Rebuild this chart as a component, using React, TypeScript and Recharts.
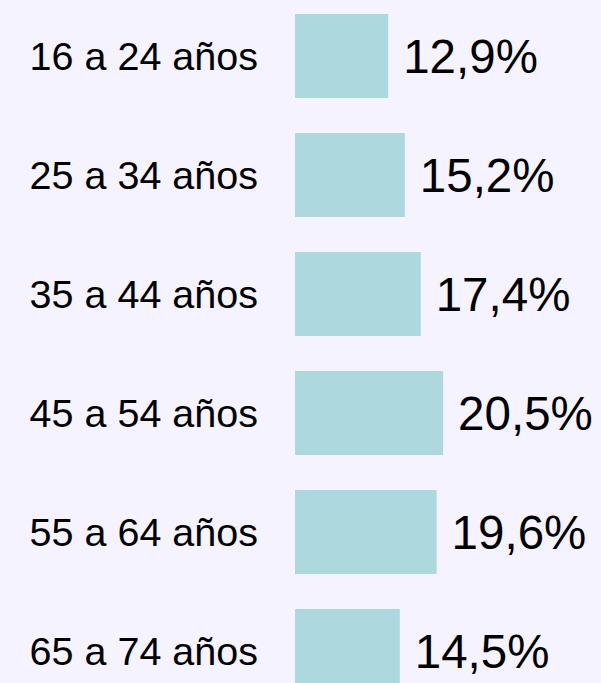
import { Bar, BarChart, LabelList, XAxis, YAxis } from 'recharts'

const grupos = ['16 a 24 años', '25 a 34 años', '35 a 44 años', '45 a 54 años', '55 a 64 años', '65 a 74 años']
const porcentajes = [12.9, 15.2, 17.4, 20.5, 19.6, 14.5]

const BG = '#F5F3FF'
const BAR_FILL = '#ADD8DD'
const FONT = '"Liberation Sans", Arial, sans-serif'

const data = grupos.map((g, i) => ({ grupo: g, valor: porcentajes[i] }))

const pctFormatter = (v: unknown) => `${Number(v).toFixed(1).replace('.', ',')}%`

export default function App() {
  return (
    <div
      style={{
        position: 'absolute',
        top: 0,
        left: 0,
        width: 601,
        height: 683,
        overflow: 'hidden',
        background: BG,
      }}
    >
      <div style={{ marginTop: -4.5 }}>
        <BarChart
          width={601}
          height={714}
          data={data}
          layout="vertical"
          margin={{ top: 0, right: 17, bottom: 0, left: 0 }}
        >
          <XAxis type="number" domain={[0, 40]} hide />
          <YAxis
            type="category"
            dataKey="grupo"
            width={295}
            axisLine={false}
            tickLine={false}
            tickSize={0}
            tickMargin={37}
            tick={{ fontSize: 39.5, fill: '#000000', fontFamily: FONT }}
          />
          <Bar dataKey="valor" fill={BAR_FILL} barSize={84} isAnimationActive={false}>
            <LabelList
              dataKey="valor"
              position="right"
              offset={15}
              formatter={pctFormatter}
              style={{ fontSize: 47.5, fill: '#000000', fontFamily: FONT }}
            />
          </Bar>
        </BarChart>
      </div>
    </div>
  )
}
